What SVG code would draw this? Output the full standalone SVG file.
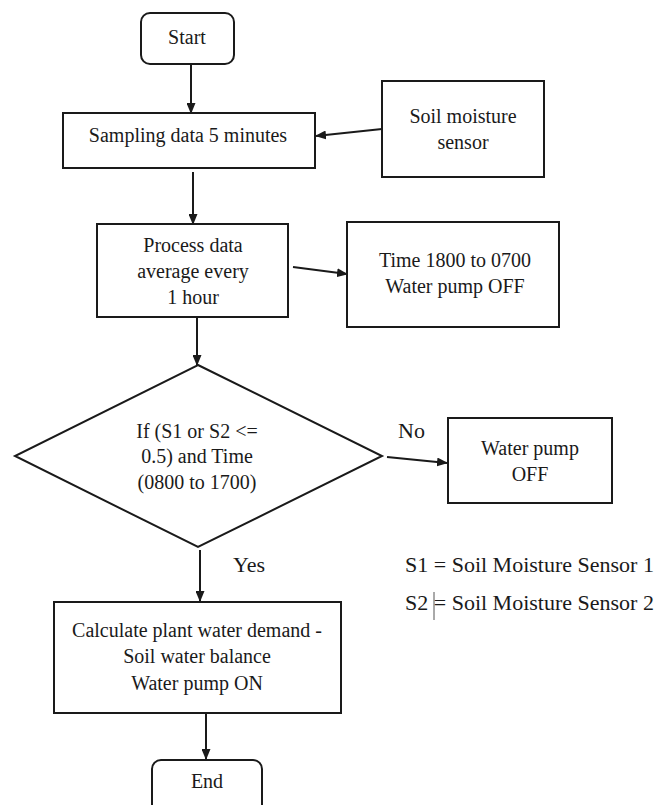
<svg xmlns="http://www.w3.org/2000/svg" width="656" height="805" viewBox="0 0 656 805">
<style>
.box{fill:#fff;stroke:#1a1a1a;stroke-width:2}
.t{font-family:"Liberation Serif","Times New Roman",serif;font-size:20px;fill:#1a1a1a;text-anchor:middle}
.l{font-family:"Liberation Serif","Times New Roman",serif;font-size:22px;fill:#1a1a1a}
.c{stroke:#1a1a1a;stroke-width:2;fill:none;marker-end:url(#ah)}
</style>
<defs>
<marker id="ah" markerUnits="userSpaceOnUse" markerWidth="11" markerHeight="9" refX="10" refY="4.5" orient="auto">
<path d="M0,0 L11,4.5 L0,9 z" fill="#1a1a1a"/>
</marker>
</defs>
<rect width="656" height="805" fill="#fff"/>
<g id="connectors">
<line class="c" x1="191" y1="64" x2="191" y2="113"/>
<line class="c" x1="382" y1="129" x2="316" y2="136"/>
<line class="c" x1="193" y1="172" x2="193" y2="224"/>
<line class="c" x1="293" y1="267" x2="347" y2="274"/>
<line class="c" x1="197" y1="317" x2="197" y2="365"/>
<line class="c" x1="387" y1="457" x2="447" y2="463"/>
<line class="c" x1="200" y1="550" x2="200" y2="601"/>
<line class="c" x1="206" y1="713" x2="206" y2="759"/>
</g>
<g id="start">
<rect class="box" x="141" y="13" width="93" height="51" rx="9"/>
<text class="t" x="187" y="44">Start</text>
</g>
<g id="sampling">
<rect class="box" x="63" y="113" width="252" height="55"/>
<text class="t" x="188" y="142">Sampling data 5 minutes</text>
</g>
<g id="sensor">
<rect class="box" x="382" y="81" width="162" height="96"/>
<text class="t" x="463" y="123">Soil moisture</text>
<text class="t" x="463" y="149">sensor</text>
</g>
<g id="process">
<rect class="box" x="97" y="224" width="191" height="93"/>
<text class="t" x="193" y="252">Process data</text>
<text class="t" x="193" y="278">average every</text>
<text class="t" x="193" y="304">1 hour</text>
</g>
<g id="night">
<rect class="box" x="347" y="222" width="212" height="105"/>
<text class="t" x="455" y="267">Time 1800 to 0700</text>
<text class="t" x="455" y="293">Water pump OFF</text>
</g>
<g id="decision">
<polygon class="box" points="198,365 382,456 198,547 15,456"/>
<text class="t" x="197" y="438">If (S1 or S2 &lt;=</text>
<text class="t" x="197" y="463">0.5) and Time</text>
<text class="t" x="197" y="489">(0800 to 1700)</text>
</g>
<g id="labels">
<text class="l" x="398" y="438">No</text>
<text class="l" x="233" y="572">Yes</text>
</g>
<g id="pumpoff">
<rect class="box" x="448" y="418" width="164" height="85"/>
<text class="t" x="530" y="455">Water pump</text>
<text class="t" x="530" y="481">OFF</text>
</g>
<g id="legend">
<text class="l" x="405" y="572">S1 = Soil Moisture Sensor 1</text>
<text class="l" x="405" y="610">S2 = Soil Moisture Sensor 2</text>
<line x1="434" y1="592" x2="434" y2="620" stroke="#555" stroke-width="1"/>
</g>
<g id="calc">
<rect class="box" x="54" y="602" width="287" height="111"/>
<text class="t" x="197" y="637">Calculate plant water demand -</text>
<text class="t" x="197" y="663">Soil water balance</text>
<text class="t" x="197" y="690">Water pump ON</text>
</g>
<g id="end">
<rect class="box" x="152" y="760" width="110" height="60" rx="9"/>
<text class="t" x="207" y="788">End</text>
</g>
</svg>
